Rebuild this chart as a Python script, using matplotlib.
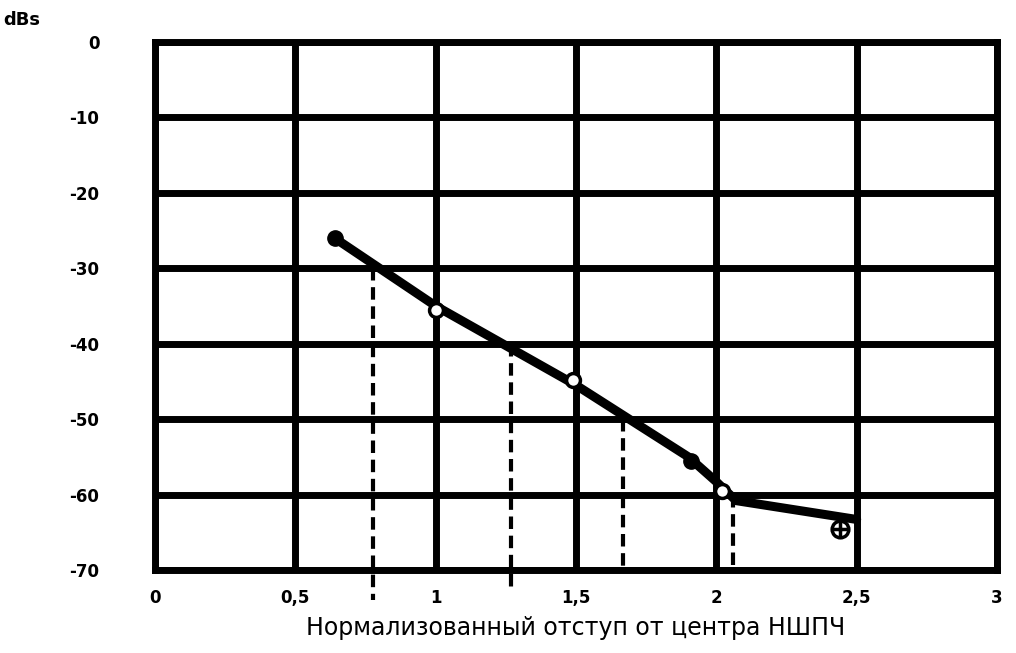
# chart: suppression vs normalised offset from centre
import matplotlib.pyplot as plt
import numpy as np

# data
curve_x = [0.64, 1.0, 1.5, 1.9, 2.0, 2.07, 2.5]
curve_y = [-26, -35, -45.5, -55, -58.3, -60.8, -63.3]

points_x = [0.64, 1.0, 1.49, 1.91, 2.02, 2.44]
points_y = [-26, -35.5, -44.8, -55.5, -59.5, -64.5]
points_style = ['filled', 'open', 'open', 'filled', 'open', 'cross']

# dashed drop lines: x position, top y, bottom y
drop_x = [0.777, 1.27, 1.667, 2.06]
drop_top = [-30, -40, -50, -60]
drop_bottom = [-74, -73, -70, -70]

xticks = [0, 0.5, 1, 1.5, 2, 2.5, 3]
xtick_labels = ['0', '0,5', '1', '1,5', '2', '2,5', '3']
yticks = [0, -10, -20, -30, -40, -50, -60, -70]

plt.rcParams['font.family'] = ['DejaVu Sans']
plt.rcParams['axes.unicode_minus'] = False

fig = plt.figure(figsize=(10.16, 6.53), dpi=100)
ax = fig.add_axes([0.1526, 0.1271, 0.8287, 0.8086])

# main curve
ax.plot(curve_x, curve_y, color='black', linewidth=6.5, solid_capstyle='round', zorder=3)

# markers
for x, y, s in zip(points_x, points_y, points_style):
    if s == 'filled':
        ax.plot(x, y, 'o', color='black', markersize=11, zorder=4)
    elif s == 'open':
        ax.plot(x, y, 'o', markerfacecolor='white', markeredgecolor='black',
                markeredgewidth=2.5, markersize=10, zorder=4)
    else:
        ax.plot(x, y, 'o', markerfacecolor='white', markeredgecolor='black',
                markeredgewidth=2.5, markersize=12, zorder=4)
        ax.plot(x, y, '+', color='black', markeredgewidth=2.5, markersize=12, zorder=5)

# dashed drop lines
for x, t, b in zip(drop_x, drop_top, drop_bottom):
    ax.plot([x, x], [t, b], color='black', linewidth=3, dashes=(3, 1.6),
            clip_on=False, zorder=2)

ax.set_xlim(0, 3)
ax.set_ylim(-70, 0)
ax.set_xticks(xticks)
ax.set_xticklabels(xtick_labels)
ax.set_yticks(yticks)

ax.grid(True, color='black', linewidth=5)
ax.set_axisbelow(True)
for sp in ax.spines.values():
    sp.set_linewidth(5)
    sp.set_color('black')

ax.tick_params(length=0, labelsize=12, pad=14)
ax.tick_params(axis='y', pad=40)
for lab in ax.get_xticklabels() + ax.get_yticklabels():
    lab.set_fontweight('bold')

ax.set_xlabel('Нормализованный отступ от центра НШПЧ', fontsize=17, labelpad=6)
fig.text(0.003, 0.962, 'dBs', fontsize=13, fontweight='bold')

plt.savefig('out.png', dpi=100)
